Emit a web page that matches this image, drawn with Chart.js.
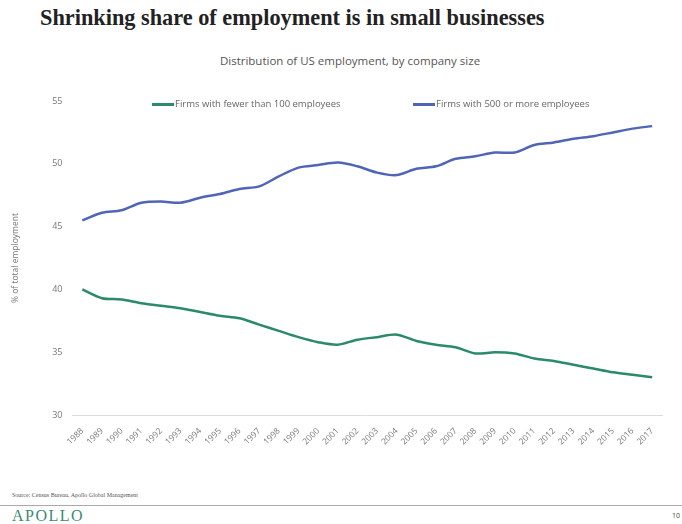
<!DOCTYPE html>
<html>
<head>
<meta charset="utf-8">
<script src="https://cdn.jsdelivr.net/npm/chart.js@4"></script>
<style>
    body { margin: 0; width: 682px; height: 524px; background: #fff; position: relative; overflow: hidden; }
    #title { position: absolute; left: 40px; top: 5px; font-family: "Liberation Serif", serif; font-size: 22.3px; font-weight: bold; color: #222; }
    #subtitle { position: absolute; left: 0; width: 700px; top: 53px; text-align: center; font-family: "Open Sans", sans-serif; font-size: 11.5px; color: #555; }
    #wrap { position: absolute; left: 0; top: 88px; width: 682px; height: 362px; }
    #legend { position: absolute; top: 97px; left: 0; width: 682px; font-family: "Open Sans", sans-serif; font-size: 9.5px; color: #666; }
    .leg { position: absolute; white-space: nowrap; }
    .leg span.sw { display: inline-block; width: 22px; height: 2.5px; vertical-align: middle; margin-right: 1px; }
    #source { position: absolute; left: 12px; top: 492px; font-family: "Liberation Serif", serif; font-size: 6px; color: #555; }
    #rule { position: absolute; left: 0; top: 505px; width: 682px; height: 1px; background: #aaa; }
    #apollo { position: absolute; left: 12px; top: 507px; font-family: "Liberation Serif", serif; font-size: 16px; letter-spacing: 1.5px; color: #3a8a72; }
    #page { position: absolute; right: 2px; top: 511px; font-family: "Open Sans", sans-serif; font-size: 7px; color: #444; }
</style>
</head>
<body>
<div id="title">Shrinking share of employment is in small businesses</div>
<div id="subtitle">Distribution of US employment, by company size</div>
<div id="wrap"><canvas id="chart"></canvas></div>
<div id="legend"></div>
<div id="source">Source: Census Bureau, Apollo Global Management</div>
<div id="rule"></div>
<div id="apollo">APOLLO</div>
<div id="page">10</div>

<script>
// -----------------------------
// Données
// -----------------------------
const years = ["1988", "1989", "1990", "1991", "1992", "1993", "1994", "1995", "1996", "1997",
    "1998", "1999", "2000", "2001", "2002", "2003", "2004", "2005", "2006", "2007",
    "2008", "2009", "2010", "2011", "2012", "2013", "2014", "2015", "2016", "2017"];

const small = [40.0, 39.3, 39.2, 38.9, 38.7, 38.5, 38.2, 37.9, 37.7, 37.2,
    36.7, 36.2, 35.8, 35.6, 36.0, 36.2, 36.4, 35.9, 35.6, 35.4,
    34.9, 35.0, 34.9, 34.5, 34.3, 34.0, 33.7, 33.4, 33.2, 33.0];

const large = [45.5, 46.1, 46.3, 46.9, 47.0, 46.9, 47.3, 47.6, 48.0, 48.2,
    49.0, 49.7, 49.9, 50.1, 49.8, 49.3, 49.1, 49.6, 49.8, 50.4,
    50.6, 50.9, 50.9, 51.5, 51.7, 52.0, 52.2, 52.5, 52.8, 53.0];

const seriesLabels = ["Firms with fewer than 100 employees", "Firms with 500 or more employees"];
const seriesColors = ["#2b8a69", "#5065b6"];
const legendX = [152, 413];


// -----------------------------
// Graphique
// -----------------------------
const ctx = document.getElementById("chart");

new Chart(ctx, {
    type: "line",
    data: {
        labels: years,
        datasets: [
            {
                label: seriesLabels[0],
                data: small,
                borderColor: seriesColors[0],
                borderWidth: 2.5,
                pointRadius: 0,
                tension: 0.3
            },
            {
                label: seriesLabels[1],
                data: large,
                borderColor: seriesColors[1],
                borderWidth: 2.5,
                pointRadius: 0,
                tension: 0.3
            }
        ]
    },
    options: {
        responsive: true,
        maintainAspectRatio: false,
        animation: false,
        layout: { padding: { top: 13, right: 20, left: 6, bottom: 0 } },
        plugins: {
            legend: { display: false },
            tooltip: { enabled: false }
        },
        scales: {
            x: {
                offset: true,
                grid: { display: false },
                border: { display: true, color: "#ddd", width: 1 },
                ticks: {
                    color: "#777",
                    font: { family: "Open Sans", size: 8.5 },
                    minRotation: 45,
                    maxRotation: 45,
                    autoSkip: false
                }
            },
            y: {
                min: 30,
                max: 55,
                grid: { display: false },
                border: { display: false },
                ticks: {
                    stepSize: 5,
                    color: "#777",
                    padding: 2,
                    font: { family: "Open Sans", size: 9 }
                },
                title: {
                    display: true,
                    text: "% of total employment",
                    color: "#777",
                    font: { family: "Open Sans", size: 8.5 },
                    padding: { bottom: 30 }
                }
            }
        }
    }
});


// -----------------------------
// Légende HTML
// -----------------------------
document.getElementById("legend").innerHTML = seriesLabels.map((lab, i) =>
    `<div class="leg" style="left:${legendX[i]}px"><span class="sw" style="background:${seriesColors[i]}"></span>${lab}</div>`
).join("");
</script>
</body>
</html>
